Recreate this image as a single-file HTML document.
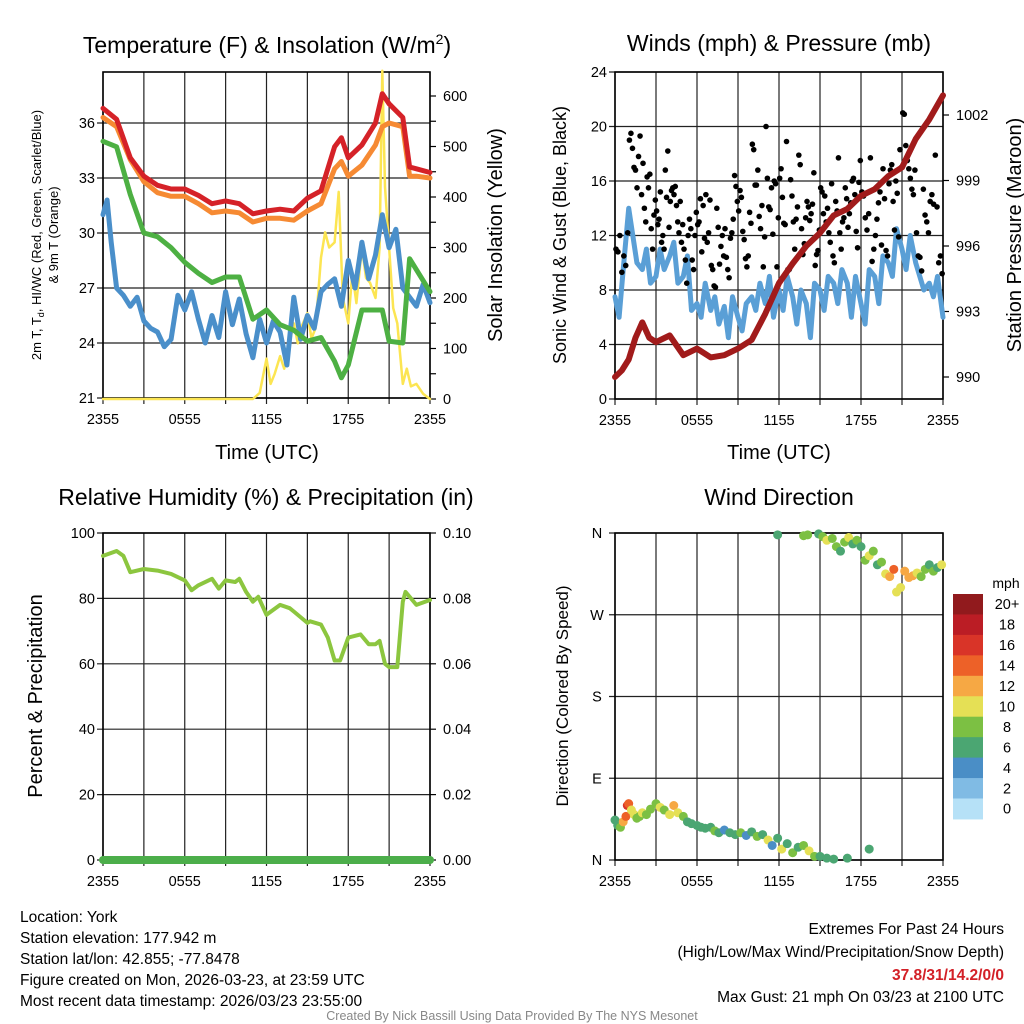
<!DOCTYPE html>
<html><head><meta charset="utf-8"><style>
body{margin:0;background:#fff;}
svg{display:block;font-family:"Liberation Sans",sans-serif;}
.n{font-family:"Liberation Sans Narrow","Liberation Sans",sans-serif;}
</style></head><body>
<svg id="c" width="1024" height="1024" viewBox="0 0 1024 1024" xmlns="http://www.w3.org/2000/svg">
<rect width="1024" height="1024" fill="#fff"/>
<text x="267" y="53" font-size="23" text-anchor="middle">Temperature (F) &amp; Insolation (W/m<tspan dy="-9" font-size="14">2</tspan><tspan dy="9">)</tspan></text>
<text x="779" y="51" font-size="23" text-anchor="middle">Winds (mph) &amp; Pressure (mb)</text>
<text x="266" y="505" font-size="23" text-anchor="middle">Relative Humidity (%) &amp; Precipitation (in)</text>
<text x="779" y="505" font-size="23" text-anchor="middle">Wind Direction</text>
<g id="p1"></g>
<g id="p2"></g>
<g id="p3"></g>
<g id="p4"></g>
<text transform="translate(41,235) rotate(-90)" font-size="13" text-anchor="middle">2m T, T<tspan font-size="9" dy="3">d</tspan><tspan dy="-3">, HI/WC (Red, Green, Scarlet/Blue)</tspan></text>
<text transform="translate(58,235) rotate(-90)" font-size="13" text-anchor="middle">&amp; 9m T (Orange)</text>
<text transform="translate(502,235) rotate(-90)" font-size="20" text-anchor="middle">Solar Insolation (Yellow)</text>
<text transform="translate(566,235) rotate(-90)" font-size="18" text-anchor="middle">Sonic Wind &amp; Gust (Blue, Black)</text>
<text transform="translate(1021,235) rotate(-90)" font-size="20" text-anchor="middle">Station Pressure (Maroon)</text>
<text transform="translate(42,696) rotate(-90)" font-size="20" text-anchor="middle">Percent &amp; Precipitation</text>
<text transform="translate(568,696) rotate(-90)" font-size="17" text-anchor="middle">Direction (Colored By Speed)</text>
<text x="267" y="459" font-size="20" text-anchor="middle">Time (UTC)</text>
<text x="779" y="459" font-size="20" text-anchor="middle">Time (UTC)</text>
<text x="1006" y="588" font-size="14" text-anchor="middle">mph</text>
<g id="leg"></g>
<g class="n" font-size="15.5">
<text x="20" y="922">Location: York</text>
<text x="20" y="943">Station elevation: 177.942 m</text>
<text x="20" y="964">Station lat/lon: 42.855; -77.8478</text>
<text x="20" y="985">Figure created on Mon, 2026-03-23, at 23:59 UTC</text>
<text x="20" y="1006">Most recent data timestamp: 2026/03/23 23:55:00</text>
<text x="1004" y="934" text-anchor="end">Extremes For Past 24 Hours</text>
<text x="1004" y="957" text-anchor="end">(High/Low/Max Wind/Precipitation/Snow Depth)</text>
<text x="1004" y="980" text-anchor="end" fill="#d32027" font-weight="bold">37.8/31/14.2/0/0</text>
<text x="1004" y="1002" text-anchor="end">Max Gust: 21 mph On 03/23 at 2100 UTC</text>
<text x="512" y="1020" text-anchor="middle" font-size="12.5" fill="#888">Created By Nick Bassill Using Data Provided By The NYS Mesonet</text>
</g>
</svg>
<script>
const hrs=[0,1,2,3,4,5,6,7,8,9,10,11,12,13,14,15,16,17,17.5,18,19,20,20.5,21,22,22.5,23,24];
const redT=[36.8,36.2,34.1,33.1,32.6,32.4,32.4,32.05,31.6,31.75,31.6,31.05,31.2,31.3,31.2,31.9,32.3,34.7,35.2,34.1,34.8,36,37.6,37.05,36.3,33.6,33.5,33.3];
const orangeT=[36.3,35.8,34.0,32.8,32.2,32.0,32.0,31.6,31.1,31.2,31.1,30.6,30.8,30.8,30.7,31.2,31.6,33.5,33.9,33.1,33.7,34.8,35.8,36.0,35.8,33.1,33.1,33.0];
const greenT=[35.0,34.7,32.1,30.0,29.8,29.2,28.4,27.8,27.3,27.6,27.6,25.3,25.8,25.0,24.7,24.1,24.3,23.0,22.1,22.8,25.8,25.8,25.8,24.1,24.0,28.6,28.0,26.8];
const blueHrs=[0,0.3,0.6,1,1.5,2,2.5,3,3.5,4,4.5,5,5.5,6,6.5,7,7.5,8,8.5,9,9.5,10,10.5,11,11.5,12,12.5,13,13.5,14,14.5,15,15.5,16,16.5,17,17.5,18,18.5,19,19.5,20,20.5,21,21.5,22,22.5,23,23.5,24];
const blueT=[31.0,31.8,29.5,27.0,26.6,26.0,26.5,25.2,24.8,24.6,23.8,24.2,26.6,25.8,26.8,25.3,24.0,25.5,24.3,26.8,25.0,26.4,24.5,23.2,25.3,24.0,25.2,24.6,22.8,26.5,24.2,25.5,24.8,26.8,27.2,27.5,26.0,28.5,27.0,29.5,27.5,28.8,31.0,29.2,30.2,27.0,26.5,26.0,27.2,26.2];
const solarHrs=[0,11,11.5,12,12.3,12.6,13,13.3,13.6,14,14.3,14.6,15,15.3,15.6,16,16.3,16.6,17,17.3,17.6,18,18.3,18.6,19,19.3,19.6,20,20.3,20.5,20.7,21,21.3,21.6,22,22.3,22.6,23,23.5,24];
const solar=[0,0,12,80,30,50,85,60,100,150,110,145,170,120,140,280,330,300,310,410,200,150,250,190,300,240,230,200,300,650,420,300,180,150,30,60,25,30,10,0];
const windHrs=[0,0.3,0.6,1,1.3,1.6,2,2.3,2.6,3,3.3,3.6,4,4.3,4.6,5,5.3,5.6,6,6.3,6.6,7,7.3,7.6,8,8.3,8.6,9,9.3,9.6,10,10.3,10.6,11,11.3,11.6,12,12.3,12.6,13,13.3,13.6,14,14.3,14.6,15,15.3,15.6,16,16.3,16.6,17,17.3,17.6,18,18.3,18.6,19,19.3,19.6,20,20.3,20.6,21,21.3,21.6,22,22.3,22.6,23,23.3,23.6,24];
const windSp=[7.5,6.0,9.5,14.0,12.0,10.0,9.5,11.0,8.5,9.0,11.0,9.5,10.5,11.5,8.5,9.0,10.5,6.5,7.0,6.0,8.5,6.5,7.5,5.5,6.8,4.5,7.5,6.0,5.0,7.0,7.5,6.5,8.5,7.0,9.0,6.0,8.0,6.5,9.0,7.5,5.5,8.0,7.0,4.5,8.5,8.0,6.5,9.0,8.5,7.0,9.5,8.5,6.0,9.0,7.0,5.5,9.5,9.0,7.0,10.5,10.0,9.0,12.5,11.0,9.5,12.0,10.0,9.0,8.0,8.5,7.5,9.0,6.0];
const presHrs=[0,0.5,1,1.5,2,2.5,3,4,5,6,7,8,9,10,11,12,13,14,15,16,17,18,19,20,21,22,23,24];
const pres=[990.0,990.3,990.8,991.8,992.5,991.8,991.6,991.9,991.0,991.3,990.9,991.0,991.3,991.7,992.9,994.3,995.2,996.0,996.6,997.4,997.7,998.3,998.6,999.2,999.6,1000.9,1001.8,1002.9];
const gustGroups=[[11,10.8,12,9.3,10.5,9.8,12.2],[19,19.5,18.4,17,16.8,15.5,17.8,19.3,15],[17.3,14,13,16.3,15.5,16.5,12.5,11,13.5,14.6],[13.8,12.8,13.2,15.2,11.5,12,11,16.8,14.8,18.2,12.6],[14.5,15.3,15.5,15,15.6,14.2,13,12.2,14.5,11.5,12.8],[11,10.2,8.5,12,13.2,12.5,10.2,9.5,12,13.7],[12.8,13,14.7,10.8,14.2,11.8,15,11.5,12.2,14.6],[9.8,9.5,8.3,8.2,14,12.6,9.9,11.2,12,10.5],[12.5,10.4,9.5,8.9,11.8,12.2,13.2,16.4,15.6,14.5],[13.8,15.3,14.8,12.3,11.7,10.3,9.7,10.5,13.7,12.9],[18.7,18.3,15.7,15.7,16.8,13.4,12.5,14.2,9.7,11.9],[20,16.2,14.1,13.9,15.5,12.1,16,15.8,9.7,13.3],[16.2,16.9,14.8,12.9,12.8,18.9,9.5,9.5,16.1,14.9],[13,11,13.2,14.1,17.9,17.2,12.5,10.6,11.4,13.3],[14.5,14.1,13.1,13.6,14.3,16.6,9.8,10.6,10.9,12.4],[15.5,15.2,13.6,14.9,13,14,12.2,11.5,15.8,10.5],[10,14.5,13.8,17.7,12.2,11,13,13.3,15.5,14.7],[12.6,13.6,14.4,16,16.2,15,12.3,11.1,15.9,17.5],[15.2,14.9,13.3,12.4,13.6,17.7,10.1,11],[12,13.2,14.4,15.2,11.3,16.9,14.7,10.9,10.5],[15.8,16.8,17.2,14.5,12.4,16,15.1,11.9,18.3,17],[21,20.9,18.6,17.5,16.9,16.2,15.4,15,16.8],[12.2,10.5,10.4,9.4,15.4,13.5,13,12.2],[14.5,15,14.3,17.9,14.1,10,10.5,9.2]];
const rhHrs=[0,1,1.5,2,3,4,5,6,6.5,7,8,8.5,9,9.7,10,10.5,11,11.4,12,13,13.7,14,15,15.2,16,16.5,17,17.4,18,18.9,19.5,20,20.3,20.7,21,21.6,22,22.2,23,24];
const rh=[93,94.5,93,88,89,88.5,87.5,85.5,82.5,84,86,83,85.5,85,86,82,79,80.5,75,78,77,76,72.5,73,72,68,61,61,68,69,66,66,67,60,59,59,79,82,78,79.5];
const precip=[0,0,0,0,0,0,0,0,0,0,0,0,0,0,0,0,0,0,0,0,0,0,0,0,0];
const dirHrs=[0,0.2,0.4,0.6,0.8,0.9,1.0,1.2,1.4,1.6,1.8,2.0,2.3,2.6,3.0,3.3,3.6,4.0,4.3,4.6,5.0,5.3,5.6,6.0,6.3,6.6,7.0,7.3,7.6,8.0,8.4,8.8,9.2,9.6,10.0,10.4,10.8,11.2,11.5,11.9,12.2,12.6,13.0,13.4,13.8,14.2,14.6,15.0,15.5,16.0,17.0,18.6,11.9,13.8,14.1,14.9,15.2,15.5,15.9,16.2,16.5,16.8,17.1,17.4,17.7,18.0,18.3,18.6,18.9,19.2,19.5,19.8,20.1,20.4,20.6,20.9,21.2,21.5,21.8,22.1,22.4,22.7,23.0,23.3,23.6,23.9];
const dirDeg=[44,38,36,42,48,60,62,55,50,46,48,52,50,56,62,58,55,50,60,52,48,42,40,38,36,35,36,32,30,33,30,28,30,27,31,26,28,22,16,24,12,18,8,14,16,10,4,4,2,1,2,12,358,357,358,359,356,352,354,345,340,350,355,348,352,345,330,335,340,325,328,315,312,320,295,300,318,311,313,316,312,320,325,318,322,325];
const dirSpd=[7,6,8,12,14,16,15,11,10,9,8,10,9,8,8,11,8,10,13,10,8,7,6,7,6,7,6,8,7,4,6,7,8,4,7,8,6,10,4,7,10,6,8,7,8,10,8,6,7,6,7,6,6,8,8,7,8,10,8,8,7,8,10,6,8,7,8,10,8,7,8,10,12,14,10,10,12,13,12,10,9,8,7,8,7,10];
const legLabels=["20+","18","16","14","12","10","8","6","4","2","0"];
const legColors=["#911a1d","#bb1d25","#d93428","#ed6128","#f6a844","#e5e055","#7cc043","#4ba672","#4a8ec6","#80bbe4","#b6e1f7"];
const tempTicks=[21,24,27,30,33,36];
const solarTicks=[0,100,200,300,400,500,600];
const windTicks=[0,4,8,12,16,20,24];
const presTicks=[990,993,996,999,1002];
const rhTicks=[0,20,40,60,80,100];
const prTicks=["0.00","0.02","0.04","0.06","0.08","0.10"];
const dirTicks=["N","E","S","W","N"];
const timeLabels=["2355","0555","1155","1755","2355"];

const NS="http://www.w3.org/2000/svg";
function mk(par,tag,at){const e=document.createElementNS(NS,tag);for(const k in at)e.setAttribute(k,at[k]);par.appendChild(e);return e;}
function xs(L,R){return t=>L+t*(R-L)/24;}
function lin(d0,d1,r0,r1){return v=>r0+(v-d0)*(r1-r0)/(d1-d0);}
function poly(g,tx,vy,T,V,col,w,name){let d="";T.forEach((t,i)=>{d+=(i?"L":"M")+tx(t).toFixed(1)+","+vy(V[i]).toFixed(1);});
 const p=mk(g,"path",{d:d,fill:"none",stroke:col,"stroke-width":w,"stroke-linejoin":"round","stroke-linecap":"round"});
 
 return p;}
function frame(g,L,R,T,B,hy){
 for(let i=0;i<=8;i++){const x=L+i*(R-L)/8;const l=mk(g,"line",{x1:x,x2:x,y1:T,y2:B+6,stroke:"#222","stroke-width":1.2});
  
  }
 hy.forEach(y=>{const l=mk(g,"line",{x1:L-6,x2:R,y1:y,y2:y,stroke:"#222","stroke-width":1.2});
  
  });
 const b=mk(g,"rect",{x:L,y:T,width:R-L,height:B-T,fill:"none",stroke:"#000","stroke-width":1.6});
 
 
 timeLabels.forEach((s,i)=>{const t=mk(g,"text",{x:L+i*(R-L)/4,y:B+26,"font-size":14.5,"text-anchor":"middle"});t.textContent=s;
  
  });
}
function lab(g,x,y,s,anchor,fs){const t=mk(g,"text",{x:x,y:y+5,"font-size":fs||14.5,"text-anchor":anchor});t.textContent=s;
 
 }
function rtick(g,x,y){mk(g,"line",{x1:x,x2:x+6,y1:y,y2:y,stroke:"#000","stroke-width":1.2});}

// Panel 1
(function(){const g=document.getElementById("p1");const L=103,R=430,T=72,B=398;
 const tx=xs(L,R),ty=lin(21,36,398,123),sy=lin(0,600,399,96);
 frame(g,L,R,T,B,tempTicks.map(ty));
 tempTicks.forEach(v=>lab(g,L-8,ty(v),String(v),"end"));
 solarTicks.forEach(v=>{rtick(g,R,sy(v));lab(g,R+13,sy(v),String(v),"start");});
 for(let v=50;v<650;v+=100)rtick(g,R,sy(v)-0);
 poly(g,tx,sy,solarHrs,solar,"#fce552",2.5,"solar-line");
 poly(g,tx,ty,blueHrs,blueT,"#4a8fca",5,"heat-index-line");
 poly(g,tx,ty,hrs,greenT,"#4db043",5,"dewpoint-line");
 poly(g,tx,ty,hrs,orangeT,"#f68a33",5,"temp-9m-line");
 poly(g,tx,ty,hrs,redT,"#d52228",5,"temp-2m-line");
})();
// Panel 2
(function(){const g=document.getElementById("p2");const L=615,R=943,T=72,B=399;
 const tx=xs(L,R),wy=lin(0,24,399,72),py=lin(990,1002,377,115);
 frame(g,L,R,T,B,windTicks.map(wy));
 windTicks.forEach(v=>lab(g,L-8,wy(v),String(v),"end"));
 presTicks.forEach(v=>{rtick(g,R,py(v));lab(g,R+13,py(v),String(v),"start");});
 poly(g,tx,wy,windHrs,windSp,"#5a9fd6",5,"wind-speed-line");
 gustGroups.forEach((grp,h)=>grp.forEach((v,i)=>{const c=mk(g,"circle",{cx:tx(h+(i+0.5)/grp.length),cy:wy(v),r:2.8,fill:"#000"});
  
  }));
 poly(g,tx,py,presHrs,pres,"#a11b1b",6,"pressure-line");
})();
// Panel 3
(function(){const g=document.getElementById("p3");const L=103,R=430,T=533,B=860;
 const tx=xs(L,R),ry=lin(0,100,860,533),py=lin(0,0.1,860,533);
 frame(g,L,R,T,B,rhTicks.map(ry));
 rhTicks.forEach(v=>lab(g,L-8,ry(v),String(v),"end"));
 prTicks.forEach(s=>{const v=parseFloat(s);rtick(g,R,py(v));lab(g,R+13,py(v),s,"start");});
 poly(g,tx,ry,rhHrs,rh,"#8cc63f",4,"rh-line");
 poly(g,tx,py,precip.map((_,i)=>i),precip,"#4cae4a",8,"precip-line");
})();
// Panel 4
(function(){const g=document.getElementById("p4");const L=615,R=943,T=533,B=860;
 const tx=xs(L,R),dy=lin(0,360,860,533);
 frame(g,L,R,T,B,[0,90,180,270,360].map(dy));
 dirTicks.forEach((s,i)=>lab(g,L-18,dy(i*90),s,"middle"));
 function col(s){let k=Math.floor(s/2);if(k>10)k=10;return legColors[10-k];}
 dirHrs.forEach((t,i)=>{const c=mk(g,"circle",{cx:tx(t),cy:dy(dirDeg[i]),r:4.5,fill:col(dirSpd[i])});
  
  });
})();
// Legend
(function(){const g=document.getElementById("leg");const top=594,h=20.45;
 legColors.forEach((c,i)=>{const r=mk(g,"rect",{x:953,y:top+i*h,width:30,height:h+0.5,fill:c});
  
  
  const t=mk(g,"text",{x:1007,y:top+i*h+h/2+5,"font-size":14.5,"text-anchor":"middle"});t.textContent=legLabels[i];
  
  });
})();
</script>
</body></html>
